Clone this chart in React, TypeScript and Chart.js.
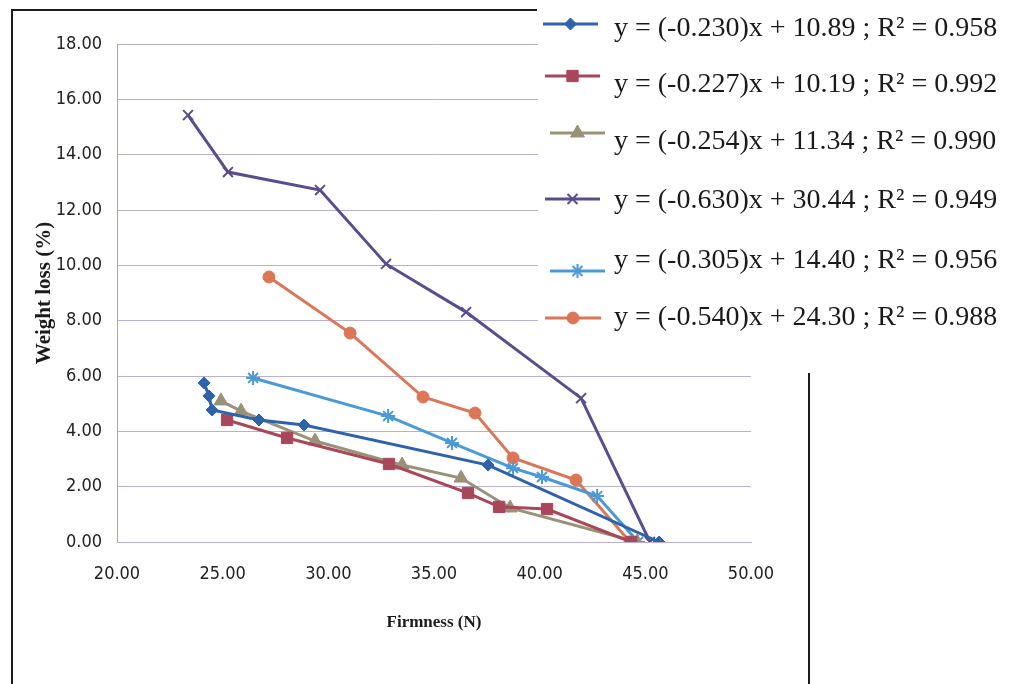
import React, { useEffect, useRef } from 'react';
import { Chart, registerables } from 'chart.js';
import { drawPoint } from 'chart.js/helpers';

Chart.register(...registerables);

// ---- data ----
const firmness1 = [24.12, 24.35, 24.5, 26.72, 28.85, 37.56, 45.65];
const loss1 = [5.75, 5.28, 4.77, 4.41, 4.23, 2.78, 0.0];

const firmness2 = [25.21, 28.05, 32.87, 36.61, 38.08, 40.35, 44.33];
const loss2 = [4.41, 3.76, 2.82, 1.77, 1.27, 1.19, 0.0];

const firmness3 = [24.92, 25.87, 29.37, 33.49, 36.28, 38.6, 44.61];
const loss3 = [5.1, 4.73, 3.65, 2.78, 2.31, 1.23, 0.0];

const firmness4 = [23.36, 25.25, 29.61, 32.73, 36.52, 41.96, 45.22];
const loss4 = [15.43, 13.37, 12.72, 10.05, 8.31, 5.2, 0.0];

const firmness5 = [26.44, 32.83, 35.85, 38.74, 40.11, 42.72, 44.66];
const loss5 = [5.93, 4.55, 3.58, 2.67, 2.35, 1.66, 0.0];

const firmness6 = [27.19, 31.03, 34.48, 36.94, 38.74, 41.72, 44.28];
const loss6 = [9.58, 7.55, 5.24, 4.66, 3.04, 2.24, 0.0];

const seriesLabels = [
  'y = (-0.230)x + 10.89 ; R\u00B2 = 0.958',
  'y = (-0.227)x + 10.19 ; R\u00B2 = 0.992',
  'y = (-0.254)x + 11.34 ; R\u00B2 = 0.990',
  'y = (-0.630)x + 30.44 ; R\u00B2 = 0.949',
  'y = (-0.305)x + 14.40 ; R\u00B2 = 0.956',
  'y = (-0.540)x + 24.30 ; R\u00B2 = 0.988',
];

const xAxisMin = 20;
const xAxisMax = 50;
const xAxisStep = 5;
const yAxisMin = 0;
const yAxisMax = 18;
const yAxisStep = 2;

const xTitle = 'Firmness (N)';
const yTitle = 'Weight loss (%)';

// ---- styles ----
const seriesColors = ['#2f62ad', '#a9475a', '#9a9276', '#5b4c8e', '#4a9ad8', '#db7656'];
const seriesMarkers = ['rectRot', 'rect', 'triangle', 'crossRot', 'star', 'circle'];
const markerRadius = [6, 8, 8, 7, 7, 6];
const markerBorder = [1, 1, 1, 2, 2, 1];

const seriesX = [firmness1, firmness2, firmness3, firmness4, firmness5, firmness6];
const seriesY = [loss1, loss2, loss3, loss4, loss5, loss6];

const TICK_FONT = "'Liberation Sans Narrow', 'DejaVu Sans Condensed', 'Liberation Sans', sans-serif";
const SERIF = "'Liberation Serif', 'Times New Roman', serif";

// legend item layout: [lineStartX, lineEndX, lineY, textY]
const legendLayout = [
  [543, 598, 24, 29],
  [545, 600, 76, 85],
  [550, 605, 133, 142],
  [545, 600, 199, 201],
  [550, 605, 271, 261],
  [545, 601, 318, 318],
];

const decorPlugin = {
  id: 'decor',
  afterDraw(chart: any) {
    const ctx = chart.ctx as CanvasRenderingContext2D;
    ctx.save();
    // chart-area frame
    ctx.strokeStyle = '#1c1c1c';
    ctx.lineWidth = 2;
    ctx.beginPath();
    ctx.moveTo(12, 684);
    ctx.lineTo(12, 10);
    ctx.lineTo(537, 10);
    ctx.stroke();
    ctx.beginPath();
    ctx.moveTo(809, 373);
    ctx.lineTo(809, 684);
    ctx.stroke();

    // legend box
    ctx.fillStyle = '#ffffff';
    ctx.fillRect(538, 0, 473, 356);

    chart.data.datasets.forEach((ds: any, i: number) => {
      const [x1, x2, ly, ty] = legendLayout[i];
      ctx.strokeStyle = ds.borderColor;
      ctx.fillStyle = ds.backgroundColor;
      ctx.lineWidth = 3;
      ctx.beginPath();
      ctx.moveTo(x1, ly);
      ctx.lineTo(x2, ly);
      ctx.stroke();
      ctx.lineWidth = ds.pointBorderWidth;
      drawPoint(ctx, {
        pointStyle: ds.pointStyle,
        rotation: 0,
        radius: ds.pointRadius,
        borderWidth: ds.pointBorderWidth,
      } as any, (x1 + x2) / 2, ly);
      ctx.fillStyle = '#1a1a1a';
      ctx.font = `28px ${SERIF}`;
      ctx.textAlign = 'left';
      ctx.textBaseline = 'middle';
      ctx.fillText(ds.label, 614, ty);
    });
    ctx.restore();
  },
};

export default function App() {
  const canvasRef = useRef<HTMLCanvasElement | null>(null);

  useEffect(() => {
    if (!canvasRef.current) return;
    const datasets = seriesLabels.map((label, i) => ({
      label,
      data: seriesX[i].map((x, j) => ({ x, y: seriesY[i][j] })),
      borderColor: seriesColors[i],
      backgroundColor: seriesColors[i],
      pointBackgroundColor: seriesColors[i],
      pointBorderColor: seriesColors[i],
      pointStyle: seriesMarkers[i],
      pointRadius: markerRadius[i],
      pointBorderWidth: markerBorder[i],
      borderWidth: 3,
      tension: 0,
      fill: false,
    }));

    const chart = new Chart(canvasRef.current, {
      type: 'line',
      data: { datasets } as any,
      options: {
        animation: false,
        responsive: false,
        maintainAspectRatio: false,
        layout: { padding: { left: 0, top: 44, right: 260, bottom: 0 } },
        plugins: {
          legend: { display: false },
          tooltip: { enabled: false },
        },
        scales: {
          x: {
            type: 'linear',
            min: xAxisMin,
            max: xAxisMax,
            ticks: {
              stepSize: xAxisStep,
              callback: (v: any) => Number(v).toFixed(2),
              font: { family: TICK_FONT, size: 18 },
              color: '#222222',
              padding: 22,
              maxRotation: 0,
            },
            grid: { display: false, drawTicks: false },
            border: { display: true, color: '#b9afd0' },
            title: {
              display: true,
              text: xTitle,
              font: { family: SERIF, size: 17, weight: 'bold' },
              color: '#1a1a1a',
              padding: { top: 0, bottom: 51 },
            },
            afterFit: (s: any) => {
              s.height = 142;
            },
          },
          y: {
            type: 'linear',
            min: yAxisMin,
            max: yAxisMax,
            ticks: {
              stepSize: yAxisStep,
              callback: (v: any) => Number(v).toFixed(2),
              font: { family: TICK_FONT, size: 18 },
              color: '#222222',
              padding: 15,
            },
            grid: { color: '#b9afd0', lineWidth: 1, drawTicks: false },
            border: { display: true, color: '#a8a8a8' },
            title: {
              display: true,
              text: yTitle,
              font: { family: SERIF, size: 21, weight: 'bold' },
              color: '#1a1a1a',
              padding: { top: 32, bottom: 0 },
            },
            afterFit: (s: any) => {
              s.width = 117;
            },
          },
        },
      } as any,
      plugins: [decorPlugin],
    });
    return () => chart.destroy();
  }, []);

  return (
    <div style={{ position: 'fixed', left: 0, top: 0, width: 1011, height: 684, background: '#ffffff' }}>
      <canvas ref={canvasRef} width={1011} height={684} style={{ display: 'block', width: 1011, height: 684 }} />
    </div>
  );
}
